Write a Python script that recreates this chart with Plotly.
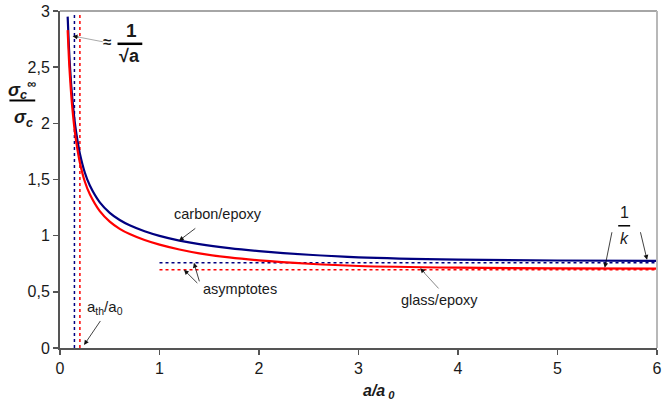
import plotly.graph_objects as go

# ---- data ----
x_curve = [0.077, 0.09, 0.1, 0.12, 0.15, 0.175, 0.2, 0.25, 0.3, 0.4, 0.5, 0.6, 0.7, 0.85,
           1.0, 1.2, 1.4, 1.7, 2.0, 2.5, 3.0, 4.0, 5.0, 6.0]
carbon_epoxy = [2.95, 2.67, 2.51, 2.26, 2.00, 1.85, 1.73, 1.56, 1.446, 1.296, 1.203, 1.139, 1.092, 1.039,
                0.998, 0.956, 0.924, 0.889, 0.863, 0.83, 0.807, 0.787, 0.779, 0.775]
glass_epoxy = [2.83, 2.57, 2.42, 2.175, 1.92, 1.77, 1.65, 1.48, 1.368, 1.218, 1.125, 1.061, 1.014, 0.961,
               0.92, 0.877, 0.843, 0.806, 0.78, 0.75, 0.73, 0.715, 0.709, 0.706]

asym_x = [1, 6]
asym_carbon = 0.758
asym_glass = 0.696
ath_carbon = 0.145
ath_glass = 0.2

x_ticks = [0, 1, 2, 3, 4, 5, 6]
y_ticks = [0, 0.5, 1, 1.5, 2, 2.5, 3]
y_ticktext = ["0", "0,5", "1", "1,5", "2", "2,5", "3"]

BLUE = "#000080"
RED = "#ff0000"
FONT = "Arial, Liberation Sans, sans-serif"
TXT = "#1a1a1a"

fig = go.Figure()

# vertical threshold lines
fig.add_trace(go.Scatter(x=[ath_carbon, ath_carbon], y=[0, 3], mode="lines",
                         line=dict(color=BLUE, width=1.5, dash="dot"), showlegend=False, hoverinfo="skip"))
fig.add_trace(go.Scatter(x=[ath_glass, ath_glass], y=[0, 3], mode="lines",
                         line=dict(color=RED, width=1.5, dash="dot"), showlegend=False, hoverinfo="skip"))
# asymptotes
fig.add_trace(go.Scatter(x=asym_x, y=[asym_carbon] * 2, mode="lines",
                         line=dict(color=BLUE, width=1.5, dash="dot"), showlegend=False, hoverinfo="skip"))
fig.add_trace(go.Scatter(x=asym_x, y=[asym_glass] * 2, mode="lines",
                         line=dict(color=RED, width=1.5, dash="dot"), showlegend=False, hoverinfo="skip"))
# curves
fig.add_trace(go.Scatter(x=x_curve, y=carbon_epoxy, mode="lines", line_shape="spline",
                         line=dict(color=BLUE, width=2.2), name="carbon/epoxy", showlegend=False))
fig.add_trace(go.Scatter(x=x_curve, y=glass_epoxy, mode="lines", line_shape="spline",
                         line=dict(color=RED, width=2.2), name="glass/epoxy", showlegend=False))

anns = []
shapes = []


def arrow(tip, tail, color="#111111", width=0.8):
    anns.append(dict(x=tip[0], y=tip[1], ax=tail[0], ay=tail[1], xref="x", yref="y",
                     axref="x", ayref="y", text="", showarrow=True, arrowhead=2,
                     arrowsize=1.2, arrowwidth=width, arrowcolor=color, standoff=0))


def text(x, y, s, size=12, ref="data", **kw):
    d = dict(x=x, y=y, text=s, showarrow=False, font=dict(family=FONT, size=size, color=TXT),
             xanchor="center", yanchor="middle")
    if ref == "paper":
        d.update(xref="paper", yref="paper")
    else:
        d.update(xref="x", yref="y")
    d.update(kw)
    anns.append(d)


def bar(x0, x1, y, ref="data", width=2):
    r = dict(xref="paper", yref="paper") if ref == "paper" else dict(xref="x", yref="y")
    shapes.append(dict(type="line", x0=x0, x1=x1, y0=y, y1=y, line=dict(color="#000000", width=width), **r))


# ≈ 1/sqrt(a)
shapes.append(dict(type="line", xref="x", yref="y", x0=0.43, y0=2.726, x1=0.15, y1=2.774,
                   line=dict(color="#aaaaaa", width=1)))
arrow((0.127, 2.776), (0.2, 2.765))
text(0.475, 2.726, "<b>≈</b>", size=15)
text(0.718, 2.83, "<b>1</b>", size=19)
bar(0.578, 0.827, 2.708, width=2.5)
text(0.70, 2.60, "<b>√a</b>", size=18)

# carbon/epoxy
text(1.585, 1.195, "carbon/epoxy", size=14.5)
arrow((1.196, 0.955), (1.375, 1.075))

# asymptotes
text(1.814, 0.522, "asymptotes", size=14.5)
arrow((1.246, 0.696), (1.395, 0.565))
arrow((1.346, 0.758), (1.405, 0.58))

# glass/epoxy
text(3.817, 0.425, "glass/epoxy", size=14.5)
shapes.append(dict(type="line", xref="x", yref="y", x0=3.805, y0=0.53, x1=3.66, y1=0.67,
                   line=dict(color="#888888", width=1)))
arrow((3.62, 0.71), (3.68, 0.655))

# 1/k
text(5.671, 1.21, "1", size=16)
bar(5.61, 5.73, 1.088, width=1.5)
text(5.671, 0.975, "<i>k</i>", size=16)
arrow((5.475, 0.715), (5.55, 1.044))
arrow((5.9, 0.785), (5.83, 1.044))

# a_th/a_0
text(0.449, 0.36, "a<sub>th</sub>/a<sub>0</sub>", size=15)
arrow((0.242, 0.027), (0.416, 0.254))

# y-axis title as fraction
text(-0.0635, 0.768, "<b><i>σ<sub>c</sub><sup>∞</sup></i></b>", size=18, ref="paper")
bar(-0.0847, -0.0415, 0.7345, ref="paper", width=2)
text(-0.0615, 0.682, "<b><i>σ<sub>c</sub></i></b>", size=18, ref="paper")

# x-axis title
text(0.535, -0.13, "<b><i>a/a</i></b><sub><b><i> 0</i></b></sub>", size=16, ref="paper")

# top and right border
shapes.append(dict(type="line", xref="paper", yref="paper", x0=0, x1=1, y0=1, y1=1,
                   line=dict(color="#a6a6a6", width=2)))
shapes.append(dict(type="line", xref="paper", yref="paper", x0=1, x1=1, y0=0, y1=1,
                   line=dict(color="#b8b8b8", width=2)))

fig.update_layout(
    width=665, height=407,
    margin=dict(l=60, r=3, t=9, b=59),
    paper_bgcolor="white", plot_bgcolor="white",
    font=dict(family=FONT, size=12, color=TXT),
    annotations=anns, shapes=shapes, showlegend=False,
    xaxis=dict(range=[0, 6], tickvals=x_ticks, ticktext=[str(v) for v in x_ticks],
               showgrid=False, zeroline=False, showline=True, linecolor="#555555", linewidth=2,
               ticks="outside", ticklen=5, tickwidth=1.5, tickcolor="#555555",
               ticklabeloverflow="allow",
               tickfont=dict(family=FONT, size=16, color=TXT)),
    yaxis=dict(range=[0, 3], tickvals=y_ticks, ticktext=y_ticktext,
               showgrid=False, zeroline=False, showline=True, linecolor="#555555", linewidth=2,
               ticks="outside", ticklen=5, tickwidth=1.5, tickcolor="#555555",
               ticklabeloverflow="allow",
               tickfont=dict(family=FONT, size=16, color=TXT)),
)

fig.write_html("out.html", config={"displayModeBar": False, "staticPlot": True},
               post_script="document.body.style.margin='0';document.body.style.overflow='hidden';")
